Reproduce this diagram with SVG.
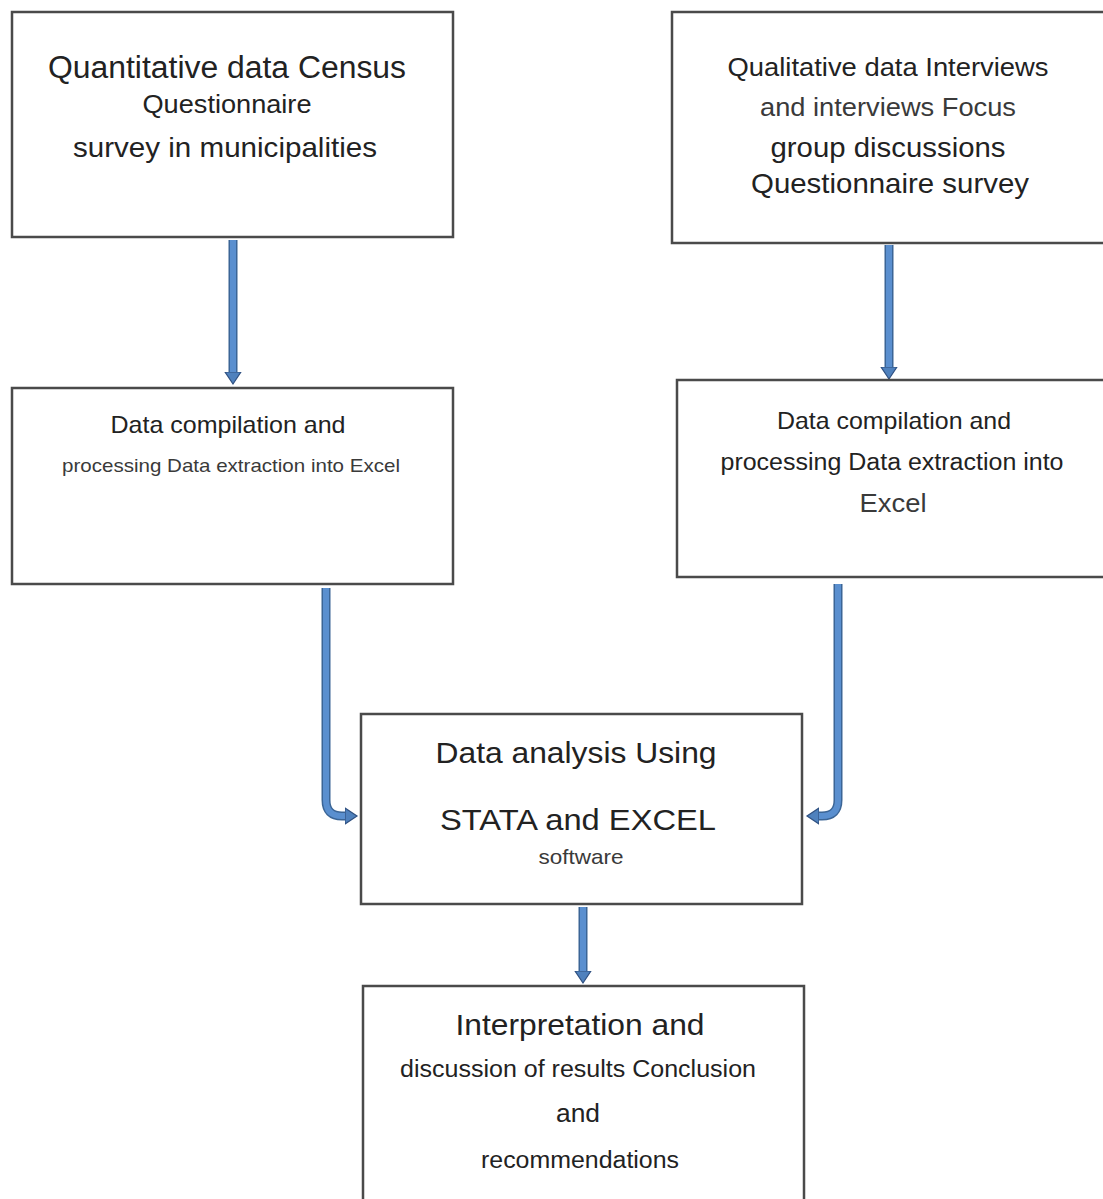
<svg xmlns="http://www.w3.org/2000/svg" width="1103" height="1199" viewBox="0 0 1103 1199">
<style>
.box{fill:#ffffff;stroke:#4a4a4a;stroke-width:2.5}
text{font-family:"Liberation Sans",Arial,sans-serif;fill:#222;text-anchor:middle}
.g{fill:#3a3a3a}
.shaft-o{fill:none;stroke:#3b6596;stroke-width:9;stroke-linejoin:round}
.shaft-i{fill:none;stroke:#5a8fcf;stroke-width:6;stroke-linejoin:round}
</style>
<defs>
<marker id="ah" markerUnits="userSpaceOnUse" markerWidth="20" markerHeight="20" refX="2" refY="9" orient="auto">
<polygon points="0,1 12,9 0,17" fill="#4f81bd" stroke="#2f5080" stroke-width="1.2"/>
</marker>
</defs>
<rect width="1103" height="1199" fill="#ffffff"/>
<g id="connectors">
<path class="shaft-o" d="M233,240 V374"/>
<path class="shaft-i" d="M233,240 V374" marker-end="url(#ah)"/>
<path class="shaft-o" d="M889,245 V369"/>
<path class="shaft-i" d="M889,245 V369" marker-end="url(#ah)"/>
<path class="shaft-o" d="M326,588 V800 Q326,816 342,816 H347"/>
<path class="shaft-i" d="M326,588 V800 Q326,816 342,816 H347" marker-end="url(#ah)"/>
<path class="shaft-o" d="M838,584 V800 Q838,816 822,816 H817"/>
<path class="shaft-i" d="M838,584 V800 Q838,816 822,816 H817" marker-end="url(#ah)"/>
<path class="shaft-o" d="M583,907 V973"/>
<path class="shaft-i" d="M583,907 V973" marker-end="url(#ah)"/>
</g>
<g id="node-quantitative">
<rect class="box" x="12" y="12" width="441" height="225"/>
<text x="227" y="78" font-size="31" textLength="358" lengthAdjust="spacingAndGlyphs">Quantitative data Census</text>
<text x="227" y="113" font-size="25" textLength="169" lengthAdjust="spacingAndGlyphs">Questionnaire</text>
<text x="225" y="157" font-size="28" textLength="304" lengthAdjust="spacingAndGlyphs">survey in municipalities</text>
</g>
<g id="node-qualitative">
<rect class="box" x="672" y="12" width="440" height="231"/>
<text x="888" y="76" font-size="26" textLength="321" lengthAdjust="spacingAndGlyphs">Qualitative data Interviews</text>
<text class="g" x="888" y="116" font-size="26" textLength="256" lengthAdjust="spacingAndGlyphs">and interviews Focus</text>
<text x="888" y="157" font-size="27" textLength="235" lengthAdjust="spacingAndGlyphs">group discussions</text>
<text x="890" y="193" font-size="28" textLength="278" lengthAdjust="spacingAndGlyphs">Questionnaire survey</text>
</g>
<g id="node-compilation-left">
<rect class="box" x="12" y="388" width="441" height="196"/>
<text x="228" y="433" font-size="24" textLength="235" lengthAdjust="spacingAndGlyphs">Data compilation and</text>
<text class="g" x="231" y="472" font-size="19" textLength="338" lengthAdjust="spacingAndGlyphs">processing Data extraction into Excel</text>
</g>
<g id="node-compilation-right">
<rect class="box" x="677" y="380" width="435" height="197"/>
<text x="894" y="429" font-size="24" textLength="234" lengthAdjust="spacingAndGlyphs">Data compilation and</text>
<text x="892" y="470" font-size="23" textLength="343" lengthAdjust="spacingAndGlyphs">processing Data extraction into</text>
<text class="g" x="893" y="512" font-size="25" textLength="67" lengthAdjust="spacingAndGlyphs">Excel</text>
</g>
<g id="node-analysis">
<rect class="box" x="361" y="714" width="441" height="190"/>
<text x="576" y="763" font-size="30" textLength="281" lengthAdjust="spacingAndGlyphs">Data analysis Using</text>
<text x="578" y="830" font-size="30" textLength="276" lengthAdjust="spacingAndGlyphs">STATA and EXCEL</text>
<text class="g" x="581" y="864" font-size="21" textLength="85" lengthAdjust="spacingAndGlyphs">software</text>
</g>
<g id="node-interpretation">
<rect class="box" x="363" y="986" width="441" height="230"/>
<text x="580" y="1035" font-size="30" textLength="249" lengthAdjust="spacingAndGlyphs">Interpretation and</text>
<text x="578" y="1077" font-size="23" textLength="356" lengthAdjust="spacingAndGlyphs">discussion of results Conclusion</text>
<text x="578" y="1122" font-size="25" textLength="44" lengthAdjust="spacingAndGlyphs">and</text>
<text x="580" y="1168" font-size="23" textLength="198" lengthAdjust="spacingAndGlyphs">recommendations</text>
</g>
</svg>
